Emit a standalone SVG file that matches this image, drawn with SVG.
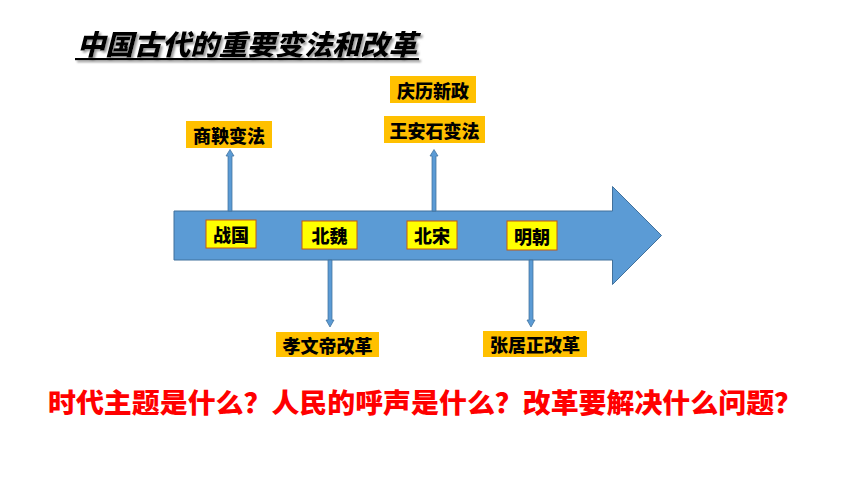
<svg xmlns="http://www.w3.org/2000/svg" width="860" height="484" viewBox="0 0 860 484">
<defs>
<style>
.t{font-family:"Noto Sans CJK SC","Liberation Sans",sans-serif;font-weight:900;}
.lbl{font-size:18px;fill:#000;text-anchor:middle;dominant-baseline:central;}
.ob{fill:#FFC000;}
.yb{fill:#FFFF00;stroke:#C55A11;stroke-width:1;}
.conn{fill:#5B9BD5;stroke:#41719C;stroke-width:0.75;}
</style>
<filter id="shadow" x="-5%" y="-20%" width="110%" height="150%">
<feDropShadow dx="2" dy="2" stdDeviation="0.8" flood-color="#808080" flood-opacity="0.8"/>
</filter>
</defs>
<rect width="860" height="484" fill="#FFFFFF"/>
<g id="title" filter="url(#shadow)">
<text x="77" y="55" class="t" font-size="28" font-style="italic" fill="#000" textLength="340" lengthAdjust="spacingAndGlyphs">中国古代的重要变法和改革</text>
<rect x="75" y="58" width="344" height="2.2" fill="#000"/>
</g>
<g id="timeline">
<polygon points="174,211 612.5,211 612.5,186.5 661.5,235.5 612.5,284.5 612.5,260 174,260" fill="#5B9BD5" stroke="#41719C" stroke-width="1"/>
</g>
<g id="connectors">
<path class="conn" d="M228,211 V156 H226 L230,149.5 L234,156 H232 V211 Z"/>
<path class="conn" d="M432,211 V156 H430 L434,149.5 L438,156 H436 V211 Z"/>
<path class="conn" d="M328,260 V320 H326 L330,327 L334,320 H332 V260 Z"/>
<path class="conn" d="M529,260 V320 H527 L531,327 L535,320 H533 V260 Z"/>
</g>
<g id="n-zhanguo">
<rect class="yb" x="206" y="220" width="50" height="28"/>
<text class="t lbl" x="231" y="234">战国</text>
</g>
<g id="n-beiwei">
<rect class="yb" x="302" y="221" width="55" height="28"/>
<text class="t lbl" x="329.5" y="235">北魏</text>
</g>
<g id="n-beisong">
<rect class="yb" x="407" y="221" width="50" height="28"/>
<text class="t lbl" x="432" y="235">北宋</text>
</g>
<g id="n-mingchao">
<rect class="yb" x="507" y="221" width="50" height="29"/>
<text class="t lbl" x="532" y="235.5">明朝</text>
</g>
<g id="n-shangyang">
<rect class="ob" x="186" y="121" width="86" height="27"/>
<text class="t lbl" x="229" y="134.5">商鞅变法</text>
</g>
<g id="n-qingli">
<rect class="ob" x="390" y="76" width="86" height="27"/>
<text class="t lbl" x="433" y="89.5">庆历新政</text>
</g>
<g id="n-wanganshi">
<rect class="ob" x="384" y="116" width="101" height="27"/>
<text class="t lbl" x="434.5" y="129.5">王安石变法</text>
</g>
<g id="n-xiaowendi">
<rect class="ob" x="276" y="332" width="103" height="25"/>
<text class="t lbl" x="327.5" y="344.5">孝文帝改革</text>
</g>
<g id="n-zhangjuzheng">
<rect class="ob" x="483" y="331" width="104" height="26"/>
<text class="t lbl" x="535" y="344">张居正改革</text>
</g>
<g id="question">
<text class="t" x="48" y="413" font-size="27" fill="#FF0000" textLength="754" lengthAdjust="spacingAndGlyphs">时代主题是什么？人民的呼声是什么？改革要解决什么问题？</text>
</g>
</svg>
